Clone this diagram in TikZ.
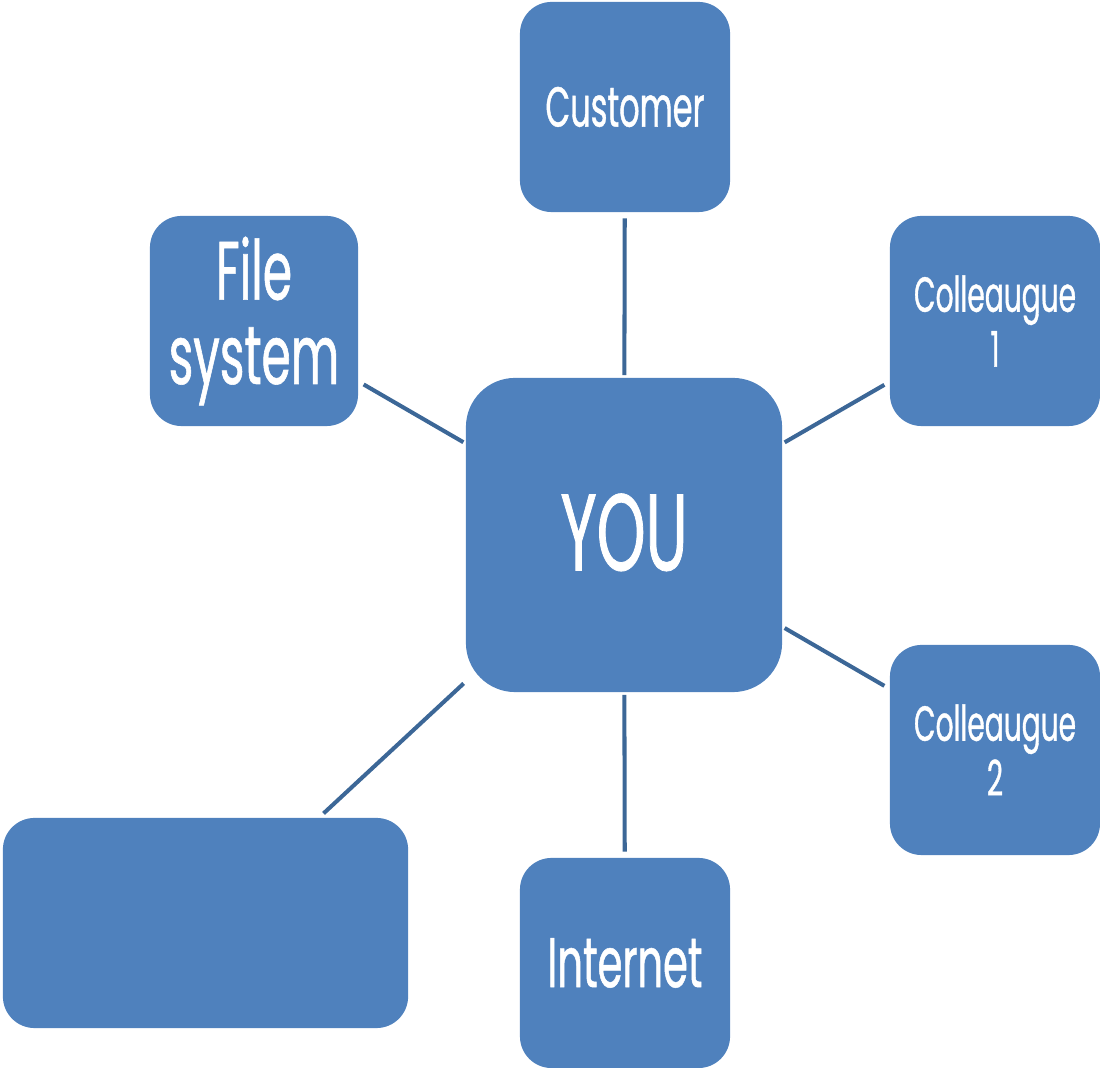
\documentclass[tikz,border=0pt]{standalone}
\usepackage{fontspec}
\setmainfont[FakeStretch=0.57, FakeBold=0.7]{Poppins}
\usepackage{tikz}
\usetikzlibrary{positioning}
\definecolor{colBlue500}{HTML}{4F81BD}
\definecolor{colBlue700}{HTML}{3C6797}
\tikzset{
  box/.style={
    fill=colBlue500, draw=none, rounded corners=9pt,
    minimum width=21mm, minimum height=21mm,
    align=center, inner sep=2pt, text=white
  },
  bigbox/.style={box, rounded corners=14pt,
    minimum width=31.6mm, minimum height=31.4mm},
  link/.style={
    line width=1.15pt, draw=colBlue700,
    shorten <=1.6pt, shorten >=0.6pt
  }
}
\begin{document}
\begin{tikzpicture}[x=0.01cm, y=-0.01cm]
  \useasboundingbox (0,0) rectangle (1100,1068);
  % centre node and the boxes round it
  \node[bigbox, font=\fontsize{31}{31}\selectfont] (you) at (624,535) {\raisebox{1.7pt}{YOU}};
  \node[box, font=\fontsize{16}{16}\selectfont] (cust) at (625,107) {Customer};
  \node[box, minimum width=20.8mm, font=\fontsize{23.5}{24}\selectfont] (fs) at (254,321) {File\\system};
  \node[box, font=\fontsize{14}{15.6}\selectfont] (col1) at (995,321) {Colleaugue\\1};
  \node[box, font=\fontsize{14}{15.6}\selectfont] (col2) at (995,750) {Colleaugue\\2};
  \node[box, font=\fontsize{20}{20}\selectfont] (net) at (625,963) {Internet};
  \node[box, minimum width=40.5mm] (blank) at (205.5,923) {};
  % spokes
  \draw[link] (cust) -- (you);
  \draw[link] (fs) -- (you);
  \draw[link] (col1) -- (you);
  \draw[link] (col2) -- (you);
  \draw[link] (net) -- (you);
  \draw[link] (blank) -- (you);
\end{tikzpicture}
\end{document}
